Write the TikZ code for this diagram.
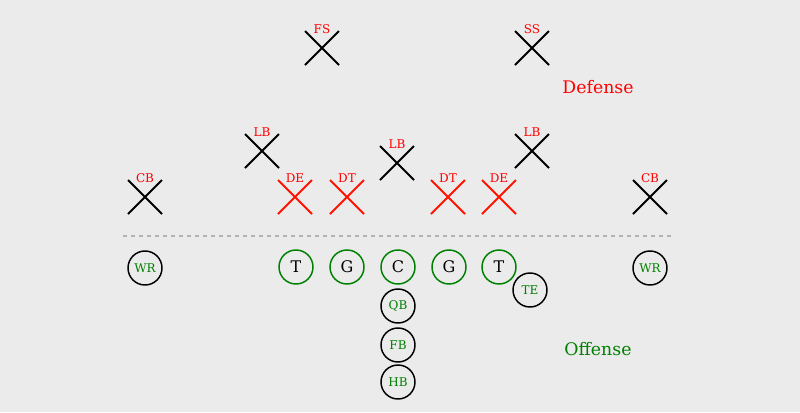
\documentclass[tikz,border=0pt]{standalone}
\usepackage{fontspec}
\setmainfont{DejaVu Serif}
\usetikzlibrary{calc}
\begin{document}
\begin{tikzpicture}[x=0.75pt,y=-0.75pt,
  xm/.style={line width=1.4pt},
  lab/.style={font=\fontsize{9}{10}\selectfont, text=red, inner sep=0pt},
  pl/.style={circle, draw=green!50!black, line width=1.1pt, minimum size=25.5pt, inner sep=0pt, font=\fontsize{12}{13}\selectfont},
  bp/.style={circle, draw=black, line width=1.1pt, minimum size=25.5pt, inner sep=0pt, font=\fontsize{9}{10}\selectfont, text=green!50!black}]
\fill[black!8] (0,0) rectangle (800,412);
\useasboundingbox (0,0) rectangle (800,412);
\newcommand{\xmark}[5]{% name,x,y,color,label
  \coordinate (#1) at (#2,#3);
  \draw[xm,#4] ($(#1)+(-17,-17)$) -- ($(#1)+(17,17)$) ($(#1)+(-17,17)$) -- ($(#1)+(17,-17)$);
  \node[lab] (#1l) at (#2,#3-19) {#5};}
\xmark{fs}{322}{48}{black}{FS}
\xmark{ss}{532}{48}{black}{SS}
\xmark{lb1}{262}{151}{black}{LB}
\xmark{lb2}{397}{163}{black}{LB}
\xmark{lb3}{532}{151}{black}{LB}
\xmark{cb1}{145}{197}{black}{CB}
\xmark{cb2}{650}{197}{black}{CB}
\xmark{de1}{295}{197}{red!85!orange}{DE}
\xmark{dt1}{347}{197}{red!85!orange}{DT}
\xmark{dt2}{448}{197}{red!85!orange}{DT}
\xmark{de2}{499}{197}{red!85!orange}{DE}
\node[text=red, font=\fontsize{13}{14}\selectfont] (def) at (598,87) {Defense};
\node[text=green!50!black, font=\fontsize{13}{14}\selectfont] (off) at (598,349) {Offense};
\coordinate (l1) at (123,236); \coordinate (l2) at (672,236);
\draw[black!30, dashed, line width=1pt] (l1) -- (l2);
\node[bp] (wr1) at (145,268) {WR};
\node[bp] (wr2) at (650,268) {WR};
\node[pl] (t1) at (296,267) {T};
\node[pl] (g1) at (347,267) {G};
\node[pl] (c) at (398,267) {C};
\node[pl] (g2) at (449,267) {G};
\node[pl] (t2) at (499,267) {T};
\node[bp] (te) at (530,290) {TE};
\node[bp] (qb) at (398,306) {QB};
\node[bp] (fb) at (398,345) {FB};
\node[bp] (hb) at (398,382) {HB};
\end{tikzpicture}
\end{document}
